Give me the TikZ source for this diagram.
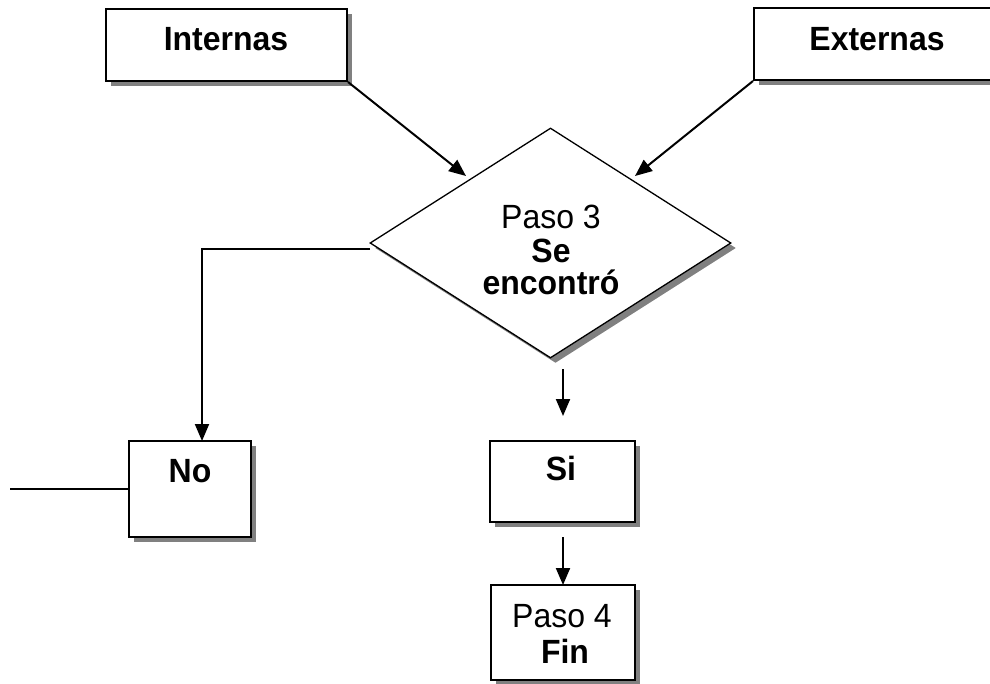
\documentclass[tikz,border=0pt]{standalone}
\usepackage{fontspec}
\setmainfont{Liberation Sans}
\usetikzlibrary{arrows.meta,shapes.geometric,shadows}
\begin{document}
\begin{tikzpicture}[x=1pt,y=-1pt,
  shadowed/.style={drop shadow={shadow xshift=5pt,shadow yshift=-5pt,fill=black!50,opacity=1}},
  box/.style={draw,line width=2pt,fill=white,inner sep=0pt,shadowed},
  decision/.style={diamond,draw,line width=1.3pt,fill=white,inner sep=0pt,shadowed},
  lbl/.style={inner sep=0pt,anchor=base,font=\fontsize{32}{38}\selectfont,yscale=1.05,transform shape},
  conn/.style={line width=2pt},
  arr/.style={conn,-{Triangle[length=17pt,width=14pt]}}]
\useasboundingbox (0,0) rectangle (990,683);
\clip (0,0) rectangle (990,683);

% boxes
\node[box,minimum width=241pt,minimum height=72pt] (int) at (226.5,45) {};
\node[box,minimum width=246pt,minimum height=72pt] (ext) at (877,44) {};
\node[decision,minimum width=361pt,minimum height=230pt] (dec) at (550.5,243) {};
\node[box,minimum width=122pt,minimum height=96pt] (no) at (190,489) {};
\node[box,minimum width=145pt,minimum height=81pt] (si) at (562.5,481.5) {};
\node[box,minimum width=144pt,minimum height=95pt] (fin) at (563,632.5) {};

% texts
\node[lbl] (tint) at (226,50) {\bfseries Internas};
\node[lbl] (text) at (877,50) {\bfseries Externas};
\node[lbl] (td1) at (551,228) {Paso 3};
\node[lbl] (td2) at (551,262) {\bfseries Se};
\node[lbl] (td3) at (551,294) {\bfseries encontró};
\node[lbl] (tno) at (190,482) {\bfseries No};
\node[lbl] (tsi) at (561,480) {\bfseries Si};
\node[lbl] (tf1) at (562,627) {Paso 4};
\node[lbl] (tf2) at (565,663) {\bfseries Fin};

% connector points
\coordinate (ia) at (466,176);
\coordinate (ea) at (635,176);
\coordinate (dl) at (370,249);
\coordinate (nt) at (202,441);
\coordinate (nl) at (10,489);
\coordinate (s1) at (563,369);
\coordinate (s2) at (563,416);
\coordinate (f1) at (563,537);
\coordinate (f2) at (563,585);

% connectors
\draw[arr] (int.south east) -- (ia);
\draw[arr] (ext.south west) -- (ea);
\draw[arr] (dl) -| (nt);
\draw[conn] (no.west) -- (nl);
\draw[arr] (s1) -- (s2);
\draw[arr] (f1) -- (f2);
\end{tikzpicture}
\end{document}
